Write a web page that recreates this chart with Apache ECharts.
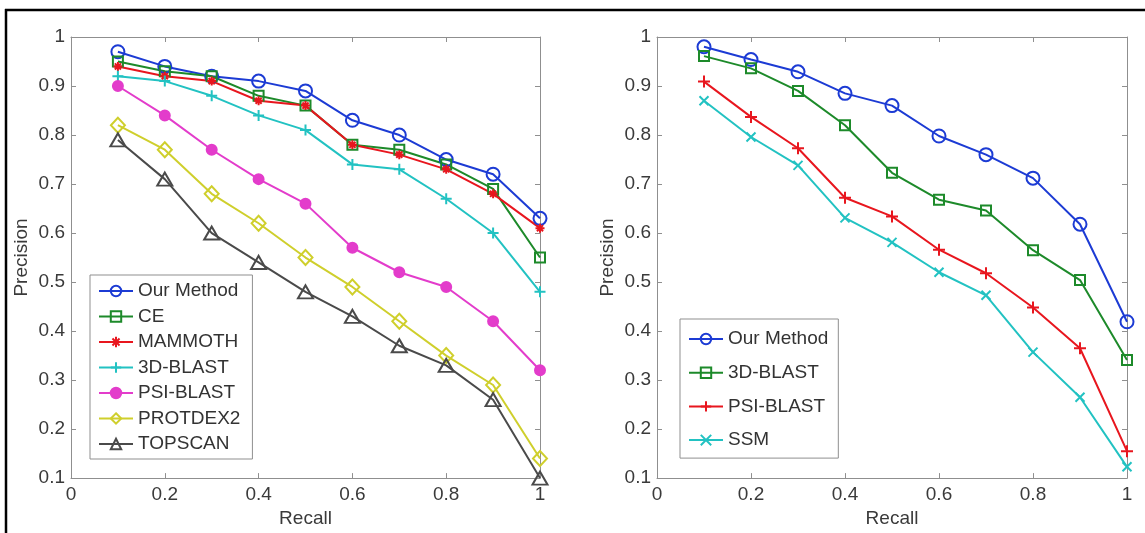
<!DOCTYPE html>
<html>
<head>
<meta charset="utf-8">
<script src="https://cdn.jsdelivr.net/npm/echarts@6/dist/echarts.min.js"></script>
<style>
html,body{margin:0;padding:0;background:#fff;}
#chart{width:1145px;height:533px;}
</style>
</head>
<body>
<div id="chart"></div>
<script>
// ---- data ----
const recall = [0.1, 0.2, 0.3, 0.4, 0.5, 0.6, 0.7, 0.8, 0.9, 1.0];

// left chart
const ourL      = [0.97, 0.94, 0.92, 0.91, 0.89, 0.83, 0.80, 0.75, 0.72, 0.63];
const ceL       = [0.95, 0.93, 0.92, 0.88, 0.86, 0.78, 0.77, 0.74, 0.69, 0.55];
const mammothL  = [0.94, 0.92, 0.91, 0.87, 0.86, 0.78, 0.76, 0.73, 0.68, 0.61];
const blast3dL  = [0.92, 0.91, 0.88, 0.84, 0.81, 0.74, 0.73, 0.67, 0.60, 0.48];
const psiL      = [0.90, 0.84, 0.77, 0.71, 0.66, 0.57, 0.52, 0.49, 0.42, 0.32];
const protdexL  = [0.82, 0.77, 0.68, 0.62, 0.55, 0.49, 0.42, 0.35, 0.29, 0.14];
const topscanL  = [0.79, 0.71, 0.60, 0.54, 0.48, 0.43, 0.37, 0.33, 0.26, 0.10];

// right chart
const ourR      = [0.980, 0.954, 0.929, 0.885, 0.860, 0.798, 0.760, 0.712, 0.618, 0.419];
const blast3dR  = [0.961, 0.936, 0.890, 0.820, 0.723, 0.668, 0.646, 0.565, 0.504, 0.341];
const psiR      = [0.909, 0.837, 0.773, 0.672, 0.634, 0.566, 0.518, 0.448, 0.365, 0.155];
const ssmR      = [0.870, 0.796, 0.738, 0.631, 0.581, 0.520, 0.473, 0.357, 0.265, 0.123];

const legendLeft  = ['Our Method', 'CE', 'MAMMOTH', '3D-BLAST', 'PSI-BLAST', 'PROTDEX2', 'TOPSCAN'];
const legendRight = ['Our Method', '3D-BLAST', 'PSI-BLAST', 'SSM'];
const xLabel = 'Recall';
const yLabel = 'Precision';

// ---- styles ----
const C = {
  blue: '#1c3bd4', green: '#1d8a2a', red: '#e8161e', cyan: '#22c2c2',
  magenta: '#e33ccb', yellow: '#cfcf2c', gray: '#4a4a4a'
};
const SYM = {
  star: 'path://M5 0L5 10M0 5L10 5M1.6 1.6L8.4 8.4M8.4 1.6L1.6 8.4',
  plus: 'path://M5 0L5 10M0 5L10 5',
  cross: 'path://M0 0L10 10M10 0L0 10'
};
const SUFFIX = ' #R';

function mk(name, vals, color, symbol, size, grid, filled) {
  return {
    name: name, type: 'line',
    xAxisIndex: grid * 2, yAxisIndex: grid * 2,
    data: recall.map((x, i) => [x, vals[i]]),
    symbol: symbol, symbolSize: size,
    showAllSymbol: true,
    lineStyle: { color: color, width: 2 },
    itemStyle: { color: filled ? color : 'rgba(255,255,255,0)', borderColor: color, borderWidth: 2 },
    emphasis: { disabled: true },
    animation: false, z: 3
  };
}

const axisColor = '#8f8f8f';
const labelStyle = { color: '#3a3a3a', fontSize: 19, fontFamily: 'Liberation Sans, Arial, sans-serif' };

function xAxes(grid) {
  const base = {
    type: 'value', gridIndex: grid, min: 0, max: 1, interval: 0.2,
    axisLine: { show: true, onZero: false, lineStyle: { color: axisColor, width: 1 } },
    axisTick: { show: true, inside: true, length: 5, lineStyle: { color: axisColor } },
    splitLine: { show: false }
  };
  return [
    Object.assign({}, base, {
      position: 'bottom',
      axisLabel: Object.assign({ margin: 7 }, labelStyle),
      name: xLabel, nameLocation: 'middle', nameGap: 24,
      nameTextStyle: labelStyle
    }),
    Object.assign({}, base, { position: 'top', axisLabel: { show: false } })
  ];
}
function yAxes(grid) {
  const base = {
    type: 'value', gridIndex: grid, min: 0.1, max: 1, interval: 0.1,
    axisLine: { show: true, onZero: false, lineStyle: { color: axisColor, width: 1 } },
    axisTick: { show: true, inside: true, length: 5, lineStyle: { color: axisColor } },
    splitLine: { show: false }
  };
  return [
    Object.assign({}, base, {
      position: 'left',
      axisLabel: Object.assign({ margin: 6 }, labelStyle),
      name: yLabel, nameLocation: 'middle', nameGap: 40,
      nameTextStyle: labelStyle
    }),
    Object.assign({}, base, { position: 'right', axisLabel: { show: false } })
  ];
}

const series = [
  mk(legendLeft[0], ourL,     C.blue,    'circle',  [13, 13], 0, false),
  mk(legendLeft[1], ceL,      C.green,   'rect',    [10, 10], 0, false),
  mk(legendLeft[2], mammothL, C.red,     SYM.star,  [9, 9],   0, false),
  mk(legendLeft[3], blast3dL, C.cyan,    SYM.plus,  [11, 11], 0, false),
  mk(legendLeft[4], psiL,     C.magenta, 'circle',  [10, 10], 0, true),
  mk(legendLeft[5], protdexL, C.yellow,  'diamond', [14, 15], 0, false),
  mk(legendLeft[6], topscanL, C.gray,    'triangle',[15, 13], 0, false),
  mk(legendRight[0] + SUFFIX, ourR,     C.blue,  'circle', [13, 13], 1, false),
  mk(legendRight[1] + SUFFIX, blast3dR, C.green, 'rect',   [10, 10], 1, false),
  mk(legendRight[2] + SUFFIX, psiR,     C.red,   SYM.plus, [12, 12], 1, false),
  mk(legendRight[3] + SUFFIX, ssmR,     C.cyan,  SYM.cross,[9, 9],   1, false)
];

const legendText = { color: '#333', fontSize: 19, lineHeight: 20, fontFamily: 'Liberation Sans, Arial, sans-serif' };

const option = {
  backgroundColor: '#fff',
  animation: false,
  grid: [
    { left: 71, top: 37, width: 469, height: 448 },
    { left: 657, top: 37, width: 470, height: 448 }
  ],
  xAxis: xAxes(0).concat(xAxes(1)),
  yAxis: yAxes(0).concat(yAxes(1)),
  legend: [
    {
      data: legendLeft, orient: 'vertical', left: 90, top: 275,
      itemWidth: 34, itemHeight: 13, itemGap: 5.5,
      padding: [6, 12, 5, 8],
      backgroundColor: '#fff', borderColor: '#8f8f8f', borderWidth: 1, borderRadius: 0,
      textStyle: legendText, selectedMode: false
    },
    {
      data: legendRight.map(n => n + SUFFIX), orient: 'vertical', left: 680, top: 319,
      itemWidth: 34, itemHeight: 13, itemGap: 13.7,
      padding: [10, 10, 8, 8],
      backgroundColor: '#fff', borderColor: '#8f8f8f', borderWidth: 1, borderRadius: 0,
      textStyle: legendText, selectedMode: false,
      formatter: n => n.replace(SUFFIX, '')
    }
  ],
  graphic: [
    { type: 'line', shape: { x1: 5, y1: 10, x2: 1145, y2: 10 }, style: { stroke: '#000', lineWidth: 2.5 }, silent: true },
    { type: 'line', shape: { x1: 6, y1: 9, x2: 6, y2: 533 }, style: { stroke: '#000', lineWidth: 2.5 }, silent: true }
  ],
  series: series
};

const chart = echarts.init(document.getElementById('chart'), null, { renderer: 'canvas' });
chart.setOption(option);
</script>
</body>
</html>
